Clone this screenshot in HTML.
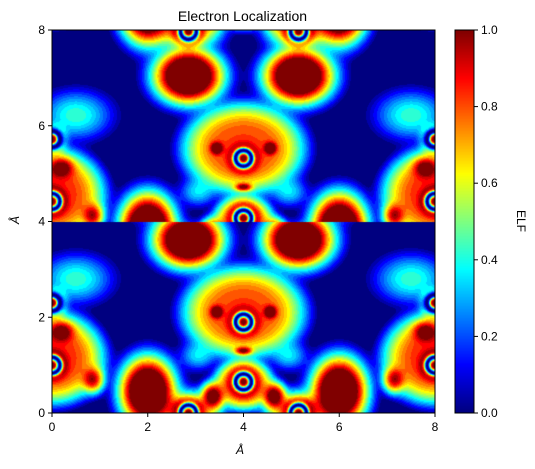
<!DOCTYPE html>
<html><head><meta charset="utf-8"><style>
body{margin:0;background:#fff;width:535px;height:469px;overflow:hidden;font-family:"Liberation Sans","DejaVu Sans",sans-serif;}
#wrap{position:relative;width:535px;height:469px;}
canvas{position:absolute;}
.t{position:absolute;font-size:12px;color:#000;white-space:nowrap;}
</style></head><body>
<div id="wrap">
<div class="t" style="left:0;width:485px;top:8px;text-align:center;font-size:14px;">Electron Localization</div>
<canvas id="map" width="383" height="383" style="left:52px;top:30px;"></canvas>
<canvas id="cbar" width="19" height="383" style="left:455px;top:30px;"></canvas>
<svg id="ax" width="535" height="469" style="position:absolute;left:0;top:0;"></svg>
<div class="t" style="left:236px;top:443px;font-style:italic;">Å</div>
<div class="t" style="left:11px;top:213px;font-style:italic;transform:rotate(-90deg);">Å</div>
<div class="t" style="left:510px;top:214px;transform:rotate(90deg);">ELF</div>
</div>
<script>
// base-cell features (Å): blobs combined by smooth max
const blobX=[2.0,6.0,2.85,5.15, 4.0,3.44,4.56,4.0, 4.0,3.36,4.64, 2.85,5.15, 0.0,8.0,0.2,7.8,0.85,7.15, 0.5,7.5, 3.05,4.95];
const blobY=[0.45,0.45,3.62,3.62, 2.1,2.11,2.11,1.3, 0.6,0.35,0.35, 0.05,0.05, 1.15,1.15,1.7,1.7,0.7,0.7, 2.8,2.8, 1.2,1.2];
const blobSX=[0.63,0.63,0.78,0.78, 1.4,0.18,0.18,0.25, 0.7,0.3,0.3, 0.78,0.78, 1.2,1.2,0.35,0.35,0.3,0.3, 0.95,0.95, 0.5,0.5];
const blobSY=[0.78,0.78,0.63,0.63, 1.05,0.18,0.18,0.12, 0.6,0.35,0.35, 0.48,0.48, 1.05,1.05,0.3,0.3,0.35,0.35, 0.65,0.65, 0.4,0.4];
const blobAmp=[1.2,1.2,1.2,1.2, 0.72,0.9,0.9,0.82, 0.72,0.92,0.92, 0.78,0.78, 0.74,0.74,0.8,0.8,0.78,0.78, 0.45,0.45, 0.4,0.4];
const blobPow=[1,1,1,1, 2,1,1,1, 2,1,1, 1,1, 2,2,1,1,1,1, 1,1, 1,1];
const atomX=[4.0,4.0,0.0,0.0,8.0,8.0,2.85,5.15];
const atomY=[0.65,1.9,1.0,2.3,1.0,2.3,0.0,0.0];
const period=4.55, shiftTop=3.42, seam=3.98;
const cbTicks=[0.0,0.2,0.4,0.6,0.8,1.0];
const axTicks=[0,2,4,6,8];
const L=52,T=30,W=383,H=383,XMAX=8;
const sx=v=>L+v/XMAX*W, sy=v=>T+H-v/XMAX*H;

function jet(v){
  const r=Math.min(Math.max(Math.min(4*v-1.5,-4*v+4.5),0),1);
  const g=Math.min(Math.max(Math.min(4*v-0.5,-4*v+3.5),0),1);
  const b=Math.min(Math.max(Math.min(4*v+0.5,-4*v+2.5),0),1);
  return [r*255,g*255,b*255];
}
function field(x,y){
  let acc=0;
  for(const k of [-1,0,1]){
    const yy=y+k*period;
    for(let i=0;i<blobX.length;i++){
      const dx=(x-blobX[i])/blobSX[i], dy=(yy-blobY[i])/blobSY[i];
      const d2=dx*dx+dy*dy;
      if(d2>9) continue;
      const s=blobAmp[i]*Math.exp(-Math.pow(d2,blobPow[i]));
      acc+=Math.pow(s,3);
    }
  }
  const s=Math.pow(acc,1/3);
  let v=(s-0.14)/0.72;
  for(const k of [-1,0,1]){
    const yy=y+k*period;
    for(let i=0;i<atomX.length;i++){
      const r=Math.hypot(x-atomX[i],yy-atomY[i]);
      if(r>0.6) continue;
      v+=0.12*Math.exp(-Math.pow((r-0.28)/0.1,2));
      v=v*(1-Math.exp(-Math.pow((r-0.165)/0.06,2)));
      v=Math.max(v,Math.exp(-Math.pow(r/0.115,4)));
    }
  }
  return Math.min(1,Math.max(0,v));
}
const cv=document.getElementById('map'),ctx=cv.getContext('2d');
const img=ctx.createImageData(W,H);
const N=25;
for(let py=0;py<H;py++){
  const Y=(H-py-0.5)/H*XMAX;
  for(let px=0;px<W;px++){
    const X=(px+0.5)/W*XMAX;
    let v=Y<seam?field(X,Y):field(X,Y-shiftTop);
    v=Math.min(N-1,Math.floor(v*N))/(N-1);
    const c=jet(v),o=(py*W+px)*4;
    img.data[o]=c[0];img.data[o+1]=c[1];img.data[o+2]=c[2];img.data[o+3]=255;
  }
}
ctx.putImageData(img,0,0);
const cb=document.getElementById('cbar').getContext('2d');
for(let py=0;py<H;py++){const c=jet(1-py/(H-1));cb.fillStyle=`rgb(${c[0]|0},${c[1]|0},${c[2]|0})`;cb.fillRect(0,py,19,1);}
const ns='http://www.w3.org/2000/svg',svg=document.getElementById('ax');
function mk(tag,at,txt){const e=document.createElementNS(ns,tag);for(const k in at)e.setAttribute(k,at[k]);if(txt!==undefined)e.textContent=txt;svg.appendChild(e);return e;}
let fr=mk('rect',{x:L,y:T,width:W,height:H,fill:'none',stroke:'#000','stroke-width':1});


let cf=mk('rect',{x:455,y:T,width:19,height:H,fill:'none',stroke:'#000','stroke-width':1});


axTicks.forEach(t=>{
  mk('line',{x1:sx(t),x2:sx(t),y1:T+H,y2:T+H+4,stroke:'#000'});
  let a=mk('text',{x:sx(t),y:T+H+18,'text-anchor':'middle','font-size':12,'font-family':'Liberation Sans, sans-serif'},String(t));
  
  
  mk('line',{x1:L-4,x2:L,y1:sy(t),y2:sy(t),stroke:'#000'});
  let b=mk('text',{x:L-7,y:sy(t)+4,'text-anchor':'end','font-size':12,'font-family':'Liberation Sans, sans-serif'},String(t));
  
  
});
cbTicks.forEach(t=>{
  const y=T+H-t*H;
  mk('line',{x1:474,x2:478,y1:y,y2:y,stroke:'#000'});
  let c=mk('text',{x:481,y:y+4,'font-size':12,'font-family':'Liberation Sans, sans-serif'},t.toFixed(1));
  
  
});
</script>
</body></html>
